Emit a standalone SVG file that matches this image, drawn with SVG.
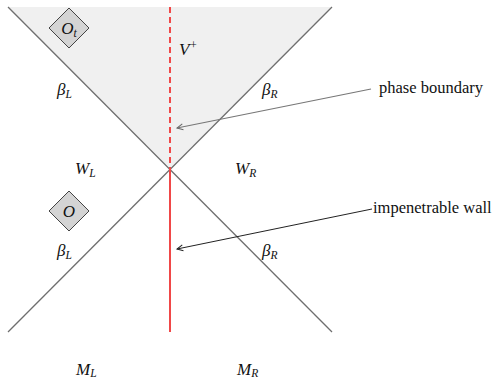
<svg xmlns="http://www.w3.org/2000/svg" width="497" height="380" viewBox="0 0 497 380">
<style>
.cone{stroke:#6e6e6e;stroke-width:1.3;fill:none}
.m{font-family:"Liberation Serif",serif;font-style:italic;font-size:17px;fill:#111}
.s{font-size:11.5px}
.t{font-family:"Liberation Serif",serif;font-size:16.5px;fill:#111}
.dia{fill:#d4d4d4;stroke:#444;stroke-width:1}
</style>
<defs>
<marker id="ahg" markerWidth="8" markerHeight="8" refX="7" refY="4" orient="auto" markerUnits="userSpaceOnUse">
<path d="M1,1 L7,4 L1,7" fill="none" stroke="#666" stroke-width="1"/>
</marker>
<marker id="ahd" markerWidth="8" markerHeight="8" refX="7" refY="4" orient="auto" markerUnits="userSpaceOnUse">
<path d="M1,1 L7,4 L1,7" fill="none" stroke="#222" stroke-width="1"/>
</marker>
</defs>
<rect width="497" height="380" fill="#fff"/>
<g id="region-future">
<polygon points="8,7 332,7 170,168" fill="#f0f0f0"/>
</g>
<g id="connectors">
<line class="cone" x1="8" y1="7" x2="332" y2="332"/>
<line class="cone" x1="332" y1="7" x2="8" y2="332"/>
<line x1="170" y1="7" x2="170" y2="168" stroke="#f04848" stroke-width="2" stroke-dasharray="6,4"/>
<line x1="170" y1="168" x2="170" y2="332" stroke="#f04848" stroke-width="2"/>
<line x1="371" y1="89" x2="177" y2="128" stroke="#777" stroke-width="1.2" marker-end="url(#ahg)"/>
<line x1="372" y1="209" x2="177" y2="249" stroke="#222" stroke-width="1" marker-end="url(#ahd)"/>
</g>
<g id="node-Ot">
<polygon class="dia" points="69,8 89,28 69,48 49,28"/>
<text class="m" x="69" y="34" text-anchor="middle">O<tspan class="s" dy="3">t</tspan></text>
</g>
<g id="node-O">
<polygon class="dia" points="69,191 89,211 69,231 49,211"/>
<text class="m" x="69" y="217" text-anchor="middle">O</text>
</g>
<g id="labels">
<text class="m" x="179" y="55">V<tspan class="s" dy="-6">+</tspan></text>
<text class="m" x="57" y="95">β<tspan class="s" dy="3">L</tspan></text>
<text class="m" x="262" y="95">β<tspan class="s" dy="3">R</tspan></text>
<text class="m" x="75" y="174">W<tspan class="s" dy="3">L</tspan></text>
<text class="m" x="235" y="174">W<tspan class="s" dy="3">R</tspan></text>
<text class="m" x="57" y="256">β<tspan class="s" dy="3">L</tspan></text>
<text class="m" x="262" y="256">β<tspan class="s" dy="3">R</tspan></text>
<text class="m" x="76" y="375">M<tspan class="s" dy="2">L</tspan></text>
<text class="m" x="237" y="375">M<tspan class="s" dy="2">R</tspan></text>
<text class="t" x="379" y="93">phase boundary</text>
<text class="t" x="373" y="213">impenetrable wall</text>
</g>
</svg>
